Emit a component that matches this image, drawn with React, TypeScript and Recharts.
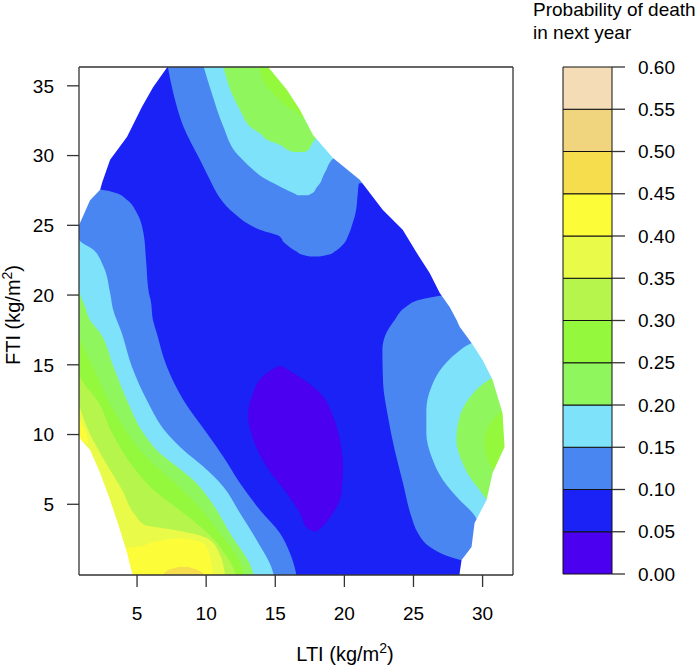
import React from "react";
import { Area, Bar, BarChart, ComposedChart, XAxis, YAxis } from "recharts";

const FONT = '"Liberation Sans", Arial, Helvetica, sans-serif';
const AXIS = "#333";

// plot limits in data units (LTI across, FTI up)
const X_MIN = 0.8;
const X_MAX = 32.2;
const Y_MIN = -0.07;
const Y_MAX = 36.35;

const X_TICKS = [5, 10, 15, 20, 25, 30];
const Y_TICKS = [5, 10, 15, 20, 25, 30, 35];

// probability bands of the colour key
const BREAKS = [0, 0.05, 0.1, 0.15, 0.2, 0.25, 0.3, 0.35, 0.4, 0.45, 0.5, 0.55, 0.6];
const LEVEL_COLORS = [
  "#4B00EF", // 0.00-0.05
  "#1A22F6", // 0.05-0.10
  "#4A86F1", // 0.10-0.15
  "#7FE2FB", // 0.15-0.20
  "#8FF65E", // 0.20-0.25
  "#94F83C", // 0.25-0.30
  "#B6F64C", // 0.30-0.35
  "#EAFA48", // 0.35-0.40
  "#FDFC38", // 0.40-0.45
  "#F5DD4D", // 0.45-0.50
  "#F1D47E", // 0.50-0.55
  "#F4DDB6", // 0.55-0.60
];

// edge of the fitted surface: [FTI, LTI]
const HULL_LEFT = [
  [-0.2, 4.7], [0.07, 4.64], [1.5, 4.28], [3.16, 3.77], [5.3, 3.05], [7.25, 2.33],
  [8.9, 1.6], [9.6, 0.95], [10.0, 0.8], [25.0, 0.8], [26.8, 1.6], [27.55, 2.33],
  [28.05, 2.47], [29.7, 3.05], [31.35, 4.28], [33.5, 5.36], [34.9, 6.16], [36.5, 7.3],
];
const HULL_RIGHT = [
  [-0.2, 28.34], [0.07, 28.34], [1.0, 28.48], [1.94, 29.2], [3.66, 29.42], [5.31, 30.29],
  [7.25, 30.72], [9.11, 31.59], [11.55, 31.44], [13.92, 30.72], [15.35, 30.0], [16.57, 29.2],
  [17.72, 28.34], [18.22, 28.12], [19.15, 27.62], [20.16, 26.89], [21.59, 26.17], [23.03, 25.23],
  [24.68, 24.22], [26.11, 22.77], [28.26, 21.11], [29.84, 19.16], [31.49, 17.72], [33.29, 16.78],
  [34.72, 15.84], [36.5, 14.36],
];

// contour regions: rows of [FTI, LTI from, LTI to]
// below 0.05
const LOW_000 = [
  [3.05, 17.8, 18.0], [3.3, 17.3, 18.3], [4.37, 16.78, 19.18], [5.8, 15.82, 19.79],
  [7.7, 14.37, 19.9], [9.67, 13.4, 19.67], [11.32, 13.04, 19.18], [13.0, 13.4, 18.22],
  [14.2, 14.13, 16.65], [14.92, 15.2, 15.45],
];
// top region, >= 0.10 / 0.15 / 0.20 / 0.25
const TOP_010 = [
  [22.76, 17.5, 18.2], [22.9, 16.9, 18.9], [23.12, 16.54, 19.3], [23.39, 16.1, 19.67],
  [23.8, 15.6, 20.05], [24.2, 15.33, 20.25], [24.68, 13.89, 20.45], [25.16, 12.93, 20.6],
  [25.63, 12.3, 20.75], [26.11, 11.72, 20.85], [27.31, 10.76, 20.97], [28.0, 10.4, 21.05],
  [28.3, 10.25, 32.2], [29.7, 9.55, 32.2], [32.09, 8.35, 32.2], [34.48, 7.62, 32.2],
  [36.5, 7.2, 32.2],
];
const TOP_015 = [
  [27.15, 16.6, 17.4], [27.31, 16.3, 17.7], [27.69, 15.5, 17.98], [28.03, 14.85, 18.25],
  [28.5, 14.0, 18.45], [28.98, 13.4, 18.7], [29.48, 12.85, 18.94], [29.84, 12.5, 19.3],
  [30.1, 12.25, 32.2], [32.09, 11.24, 32.2], [34.48, 10.4, 32.2], [36.5, 9.78, 32.2],
];
const TOP_020 = [
  [30.25, 16.3, 17.1], [30.4, 15.9, 17.4], [30.77, 15.33, 17.62], [31.0, 14.7, 17.78],
  [31.28, 14.2, 17.98], [31.45, 14.05, 32.2], [32.09, 13.16, 32.2], [33.04, 12.57, 32.2],
  [34.48, 11.84, 32.2], [36.5, 11.22, 32.2],
];
const TOP_025 = [
  [32.75, 16.9, 17.5], [32.93, 16.78, 32.2], [33.52, 15.84, 32.2], [34.48, 14.83, 32.2],
  [35.44, 14.1, 32.2], [36.5, 13.88, 32.2],
];
// left / bottom region, >= 0.10 ... 0.45
const LEFT_010 = [
  [-0.2, 0.8, 16.55], [0.07, 0.8, 16.5], [1.5, 0.8, 16.06], [2.94, 0.8, 15.33],
  [4.59, 0.8, 13.89], [6.53, 0.8, 12.44], [8.41, 0.8, 11.24], [10.11, 0.8, 10.04],
  [12.48, 0.8, 8.35], [14.87, 0.8, 7.15], [17.29, 0.8, 6.42], [18.22, 0.8, 6.15],
  [19.66, 0.8, 5.98], [20.16, 0.8, 5.85], [22.53, 0.8, 5.65], [24.46, 0.8, 5.46],
  [25.9, 0.8, 4.98], [26.83, 0.8, 4.26], [27.33, 0.8, 3.41], [27.55, 0.8, 2.4],
  [27.65, 0.8, 0.8],
];
const LEFT_015 = [
  [-0.2, 0.8, 14.9], [0.07, 0.8, 14.85], [2.44, 0.8, 13.65], [4.38, 0.8, 12.44],
  [6.26, 0.8, 11.24], [7.7, 0.8, 9.79], [8.9, 0.8, 8.35], [10.11, 0.8, 7.15],
  [12.48, 0.8, 5.7], [14.87, 0.8, 4.62], [17.29, 0.8, 3.89], [18.94, 0.8, 3.27],
  [20.16, 0.8, 3.05], [22.04, 0.8, 2.57], [23.24, 0.8, 1.84], [23.96, 0.8, 0.82],
  [24.1, 0.8, 0.8],
];
const LEFT_020 = [
  [-0.2, 0.8, 13.45], [0.07, 0.8, 13.4], [2.94, 0.8, 11.72], [5.31, 0.8, 10.27],
  [6.74, 0.8, 9.07], [7.7, 0.8, 7.87], [8.9, 0.8, 6.42], [10.11, 0.8, 5.46],
  [12.48, 0.8, 4.26], [14.87, 0.8, 3.29], [17.29, 0.8, 2.33], [18.22, 0.8, 1.6],
  [19.18, 0.8, 1.24], [20.37, 0.8, 0.81], [20.5, 0.8, 0.8],
];
const LEFT_025 = [
  [-0.2, 0.8, 12.8], [0.07, 0.8, 12.75], [2.94, 0.8, 11.0], [5.31, 0.8, 9.0],
  [6.74, 0.8, 7.5], [7.7, 0.8, 6.4], [8.9, 0.8, 5.2], [10.11, 0.8, 4.3],
  [12.48, 0.8, 2.9], [14.87, 0.8, 1.8], [16.5, 0.8, 1.0], [17.0, 0.8, 0.8],
];
const LEFT_030 = [
  [-0.2, 0.8, 12.15], [0.07, 0.8, 12.1], [1.5, 0.8, 11.3], [2.44, 0.8, 10.6],
  [3.87, 0.8, 9.0], [4.95, 0.8, 7.6], [6.03, 0.8, 6.2], [7.7, 0.8, 4.7],
  [10.11, 0.8, 3.2], [12.48, 0.8, 2.1], [13.6, 0.8, 1.2], [14.3, 0.8, 0.8],
];
const LEFT_035 = [
  [-0.2, 0.8, 11.4], [0.07, 0.8, 11.35], [1.36, 0.8, 11.0], [2.44, 0.8, 10.27],
  [2.9, 0.8, 9.0], [3.2, 0.8, 7.5], [3.5, 0.8, 5.6], [4.23, 0.8, 4.86],
  [6.03, 0.8, 3.92], [8.18, 0.8, 2.62], [10.33, 0.8, 1.46], [12.12, 0.8, 0.8],
];
const LEFT_040 = [
  [9.4, 0.8, 1.45], [10.0, 0.8, 1.35], [10.6, 0.8, 1.1], [11.2, 0.8, 0.8],
];
const LOW_040 = [
  [-0.2, 0.8, 10.5], [1.0, 0.8, 10.35], [1.5, 0.8, 10.2], [2.0, 5.3, 10.0],
  [2.3, 6.2, 9.6], [2.55, 7.8, 8.3],
];
const LOW_045 = [
  [-0.2, 6.8, 9.9], [0.1, 7.0, 9.7], [0.3, 7.3, 9.35], [0.5, 8.0, 8.7],
];
// right region, >= 0.10 / 0.15 / 0.20 / 0.25
const RIGHT_010 = [
  [0.95, 28.6, 32.2], [1.24, 27.61, 32.2], [1.96, 26.17, 32.2], [2.94, 25.32, 32.2],
  [4.14, 24.84, 32.2], [6.53, 24.24, 32.2], [8.9, 23.64, 32.2], [11.32, 23.15, 32.2],
  [13.7, 22.8, 32.2], [16.07, 22.75, 32.2], [17.29, 23.04, 32.2], [18.22, 23.64, 32.2],
  [19.18, 24.49, 32.2], [19.66, 25.45, 32.2], [19.95, 26.9, 32.2],
];
const RIGHT_015 = [
  [3.5, 29.8, 32.2], [4.35, 29.3, 32.2], [5.31, 28.34, 32.2], [6.74, 27.13, 32.2],
  [8.42, 26.3, 32.2], [10.09, 25.93, 32.2], [11.76, 25.93, 32.2], [13.43, 26.3, 32.2],
  [14.87, 27.13, 32.2], [15.83, 28.1, 32.2], [16.55, 29.19, 32.2], [16.75, 29.7, 32.2],
];
const RIGHT_020 = [
  [5.2, 30.4, 32.2], [6.03, 29.78, 32.2], [6.98, 29.06, 32.2], [8.18, 28.46, 32.2],
  [9.61, 28.1, 32.2], [11.28, 28.34, 32.2], [12.48, 28.94, 32.2], [13.43, 29.78, 32.2],
  [14.04, 30.63, 32.2], [14.25, 31.0, 32.2],
];
const RIGHT_025 = [
  [7.3, 30.9, 32.2], [8.18, 30.38, 32.2], [9.61, 30.14, 32.2], [11.05, 30.74, 32.2],
  [11.76, 31.47, 32.2], [11.95, 31.7, 32.2],
];

const BASE = [[Y_MIN - 0.2, X_MIN, X_MAX], [Y_MAX + 0.2, X_MIN, X_MAX]];
const OUT_LEFT = HULL_LEFT.map(([y, x]) => [y, X_MIN, x]);
const OUT_RIGHT = HULL_RIGHT.map(([y, x]) => [y, x, X_MAX]);

const LAYERS: { color: string; rows: number[][]; linear?: boolean }[] = [
  { color: LEVEL_COLORS[1], rows: BASE, linear: true },
  { color: LEVEL_COLORS[0], rows: LOW_000 },
  { color: LEVEL_COLORS[2], rows: TOP_010 },
  { color: LEVEL_COLORS[2], rows: LEFT_010 },
  { color: LEVEL_COLORS[2], rows: RIGHT_010 },
  { color: LEVEL_COLORS[3], rows: TOP_015 },
  { color: LEVEL_COLORS[3], rows: LEFT_015 },
  { color: LEVEL_COLORS[3], rows: RIGHT_015 },
  { color: LEVEL_COLORS[4], rows: TOP_020 },
  { color: LEVEL_COLORS[4], rows: LEFT_020 },
  { color: LEVEL_COLORS[4], rows: RIGHT_020 },
  { color: LEVEL_COLORS[5], rows: TOP_025 },
  { color: LEVEL_COLORS[5], rows: LEFT_025 },
  { color: LEVEL_COLORS[5], rows: RIGHT_025 },
  { color: LEVEL_COLORS[6], rows: LEFT_030 },
  { color: LEVEL_COLORS[7], rows: LEFT_035 },
  { color: LEVEL_COLORS[8], rows: LEFT_040 },
  { color: LEVEL_COLORS[8], rows: LOW_040 },
  { color: LEVEL_COLORS[9], rows: LOW_045 },
  { color: "#ffffff", rows: OUT_LEFT, linear: true },
  { color: "#ffffff", rows: OUT_RIGHT, linear: true },
];

const toData = (rows: number[][]) => rows.map(([y, lo, hi]) => ({ y, r: [lo, hi] }));

const KEY_ROW: Record<string, number | string> = { name: "p" };
LEVEL_COLORS.forEach((_, i) => {
  KEY_ROW[`l${i}`] = +(BREAKS[i + 1] - BREAKS[i]).toFixed(2);
});

const tickStyle = { fontSize: 19, fill: "#000", fontFamily: FONT };

function AxisTitle({ x, y, name, vertical }: { x: number; y: number; name: string; vertical?: boolean }) {
  return (
    <text
      x={x}
      y={y}
      textAnchor="middle"
      fontSize={20}
      fill="#000"
      fontFamily={FONT}
      transform={vertical ? `rotate(-90 ${x} ${y})` : undefined}
    >
      {name} (kg/m
      <tspan fontSize={14} dy={-8}>2</tspan>
      <tspan dy={8}>)</tspan>
    </text>
  );
}

export default function App() {
  return (
    <div style={{ position: "absolute", left: 0, top: 0, width: 697, height: 665, background: "#fff" }}>
      <div style={{ position: "absolute", left: 0, top: 0 }}>
        <ComposedChart
          layout="vertical"
          width={697}
          height={665}
          margin={{ top: 66, right: 183, bottom: 0, left: 0 }}
        >
          {LAYERS.map((l, i) => (
            <Area
              key={i}
              data={toData(l.rows)}
              dataKey="r"
              type={l.linear ? "linear" : "monotone"}
              fill={l.color}
              fillOpacity={1}
              stroke="none"
              dot={false}
              activeDot={false}
              isAnimationActive={false}
            />
          ))}
          <XAxis
            type="number"
            domain={[X_MIN, X_MAX]}
            allowDataOverflow
            ticks={X_TICKS}
            interval={0}
            height={90}
            tickSize={12}
            tickMargin={20}
            tick={tickStyle}
            tickLine={{ stroke: AXIS, strokeWidth: 1.3 }}
            axisLine={{ stroke: AXIS, strokeWidth: 1.3 }}
            label={{ content: () => <AxisTitle x={345} y={661} name="LTI" /> }}
          />
          <YAxis
            type="number"
            dataKey="y"
            reversed
            domain={[Y_MIN, Y_MAX]}
            allowDataOverflow
            ticks={Y_TICKS}
            interval={0}
            width={79}
            tickSize={12}
            tickMargin={13}
            tick={tickStyle}
            tickLine={{ stroke: AXIS, strokeWidth: 1.3 }}
            axisLine={{ stroke: AXIS, strokeWidth: 1.3 }}
            label={{ content: () => <AxisTitle x={20} y={315} name="FTI" vertical /> }}
          />
          <XAxis
            xAxisId="top"
            orientation="top"
            type="number"
            domain={[X_MIN, X_MAX]}
            height={1}
            tick={false}
            tickLine={false}
            axisLine={{ stroke: AXIS, strokeWidth: 1.3 }}
          />
          <YAxis
            yAxisId="right"
            orientation="right"
            type="number"
            reversed
            domain={[Y_MIN, Y_MAX]}
            width={1}
            tick={false}
            tickLine={false}
            axisLine={{ stroke: AXIS, strokeWidth: 1.3 }}
          />
        </ComposedChart>
      </div>

      <div style={{ position: "absolute", left: 540, top: 0 }}>
        <BarChart
          width={157}
          height={665}
          data={[KEY_ROW]}
          margin={{ top: 67, right: 0, bottom: 91, left: 23 }}
          barCategoryGap={0}
        >
          <XAxis dataKey="name" hide />
          <YAxis
            orientation="right"
            type="number"
            domain={[0, 0.6]}
            ticks={BREAKS}
            interval={0}
            width={85}
            tickSize={13}
            tickMargin={13}
            tick={tickStyle}
            tickFormatter={(v: number) => v.toFixed(2)}
            tickLine={{ stroke: AXIS, strokeWidth: 1.3 }}
            axisLine={false}
          />
          {LEVEL_COLORS.map((c, i) => (
            <Bar
              key={i}
              dataKey={`l${i}`}
              stackId="key"
              fill={c}
              stroke="#111"
              strokeWidth={1}
              isAnimationActive={false}
            />
          ))}
        </BarChart>
      </div>

      <div
        style={{
          position: "absolute",
          left: 533,
          top: -2,
          fontFamily: FONT,
          fontSize: 19,
          lineHeight: "23px",
          color: "#000",
          whiteSpace: "nowrap",
        }}
      >
        Probability of death
        <br />
        in next year
      </div>
    </div>
  );
}
